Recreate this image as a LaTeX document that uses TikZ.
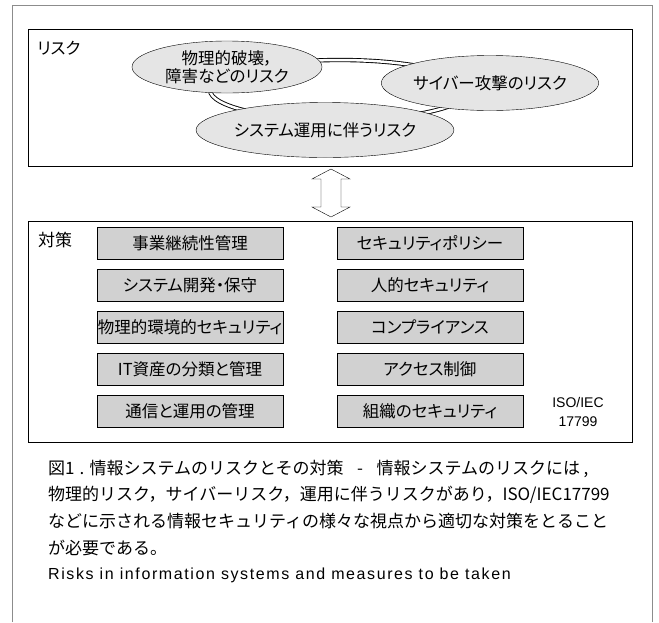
\documentclass[tikz,border=0pt]{standalone}
\usepackage{fontspec}
\setmainfont{Noto Sans CJK JP}
\newfontfamily\propfont[RawFeature=+palt]{Noto Sans CJK JP}
\newfontfamily\latinfont{Liberation Sans}
\newfontfamily\widelatin[LetterSpace=10]{Liberation Sans}
\usepackage{tikz}
\usetikzlibrary{calc}
\usetikzlibrary{positioning}
\usetikzlibrary{shapes.geometric}

\definecolor{ellgray}{gray}{0.90}
\definecolor{boxgray}{gray}{0.82}
\definecolor{framegray}{gray}{0.55}

\tikzset{
  riskell/.style = {ellipse, draw, fill=ellgray, minimum width=190, minimum height=55,
                    inner sep=0pt, align=center, font=\propfont\fontsize{16.5}{18}\selectfont},
  measbox/.style = {draw, fill=boxgray, minimum width=186, minimum height=32,
                    inner sep=0pt, font=\propfont\fontsize{16.5}{18}\selectfont},
  ring/.style    = {draw=black, line width=0.9pt, double=white, double distance=2.5pt},
  caption/.style = {anchor=west, inner sep=0pt, font=\fontsize{17}{20}\selectfont}
}

\begin{document}
\begin{tikzpicture}[x=1pt, y=-1pt]
\useasboundingbox (0,0) rectangle (659,622);

% Outer frame, open at the bottom
\draw[framegray] (12,622) -- (12,5) -- (652,5) -- (652,622);

% Risk box
\draw[thick] (28,29) rectangle (632,166);
\node[anchor=west, inner sep=0pt, font=\propfont\fontsize{16.5}{18}\selectfont] (risk) at (37,48) {リスク};

% Ring behind the three risks
\draw[ring] (340,90) ellipse (130 and 30);

% The three risks
\node[riskell, minimum height=52] (phys) at (227,67) {物理的破壊，\\障害などのリスク};
\node[riskell] (cyber) at (490,83) {サイバー攻撃のリスク};
\node[riskell] (oper) at (325,130) {システム運用に伴うリスク};

% Open double arrow between the boxes
\draw[fill=white] (331,169) -- (350,179) -- (341,179) -- (341,207) -- (350,207)
  -- (331,217) -- (312,207) -- (321,207) -- (321,179) -- (312,179) -- cycle;

% Measures box
\draw[thick] (28,221) rectangle (632,442);
\node[anchor=west, inner sep=0pt, font=\fontsize{17}{20}\selectfont] (meas) at (38,240) {対策};

% Left column
\node[measbox] (bcm)   at (190,243) {事業継続性管理};
\node[measbox] (dev)   at (190,285) {システム開発・保守};
\node[measbox] (env)   at (190,327) {物理的環境的セキュリティ};
\node[measbox] (asset) at (190,369) {IT資産の分類と管理};
\node[measbox] (comm)  at (190,411) {通信と運用の管理};

% Right column
\node[measbox] (policy) at (430,243) {セキュリティポリシー};
\node[measbox] (human)  at (430,285) {人的セキュリティ};
\node[measbox] (compl)  at (430,327) {コンプライアンス};
\node[measbox] (access) at (430,369) {アクセス制御};
\node[measbox] (org)    at (430,411) {組織のセキュリティ};

\node[align=center, inner sep=0pt, font=\latinfont\fontsize{14}{19}\selectfont] (iso) at (578,412) {ISO/IEC\\17799};

% Caption
\node[caption] (cap1) at (48,469) {図1\hspace{0.3em}.\hspace{0.3em}情報システムのリスクとその対策\hspace{0.8em}-\hspace{0.8em}情報システムのリスクには\hspace{0.2em},};
\node[caption] (cap2) at (48,495) {物理的リスク，サイバーリスク，運用に伴うリスクがあり，ISO/IEC17799};
\node[caption] (cap3) at (48,521) {などに示される情報セキュリティの様々な視点から適切な対策をとること};
\node[caption] (cap4) at (48,548) {が必要である。};
\node[anchor=west, inner sep=0pt, font=\widelatin\fontsize{16}{19}\selectfont] (eng) at (48,575)
  {Risks in information systems and measures to be taken};

\end{tikzpicture}
\end{document}
